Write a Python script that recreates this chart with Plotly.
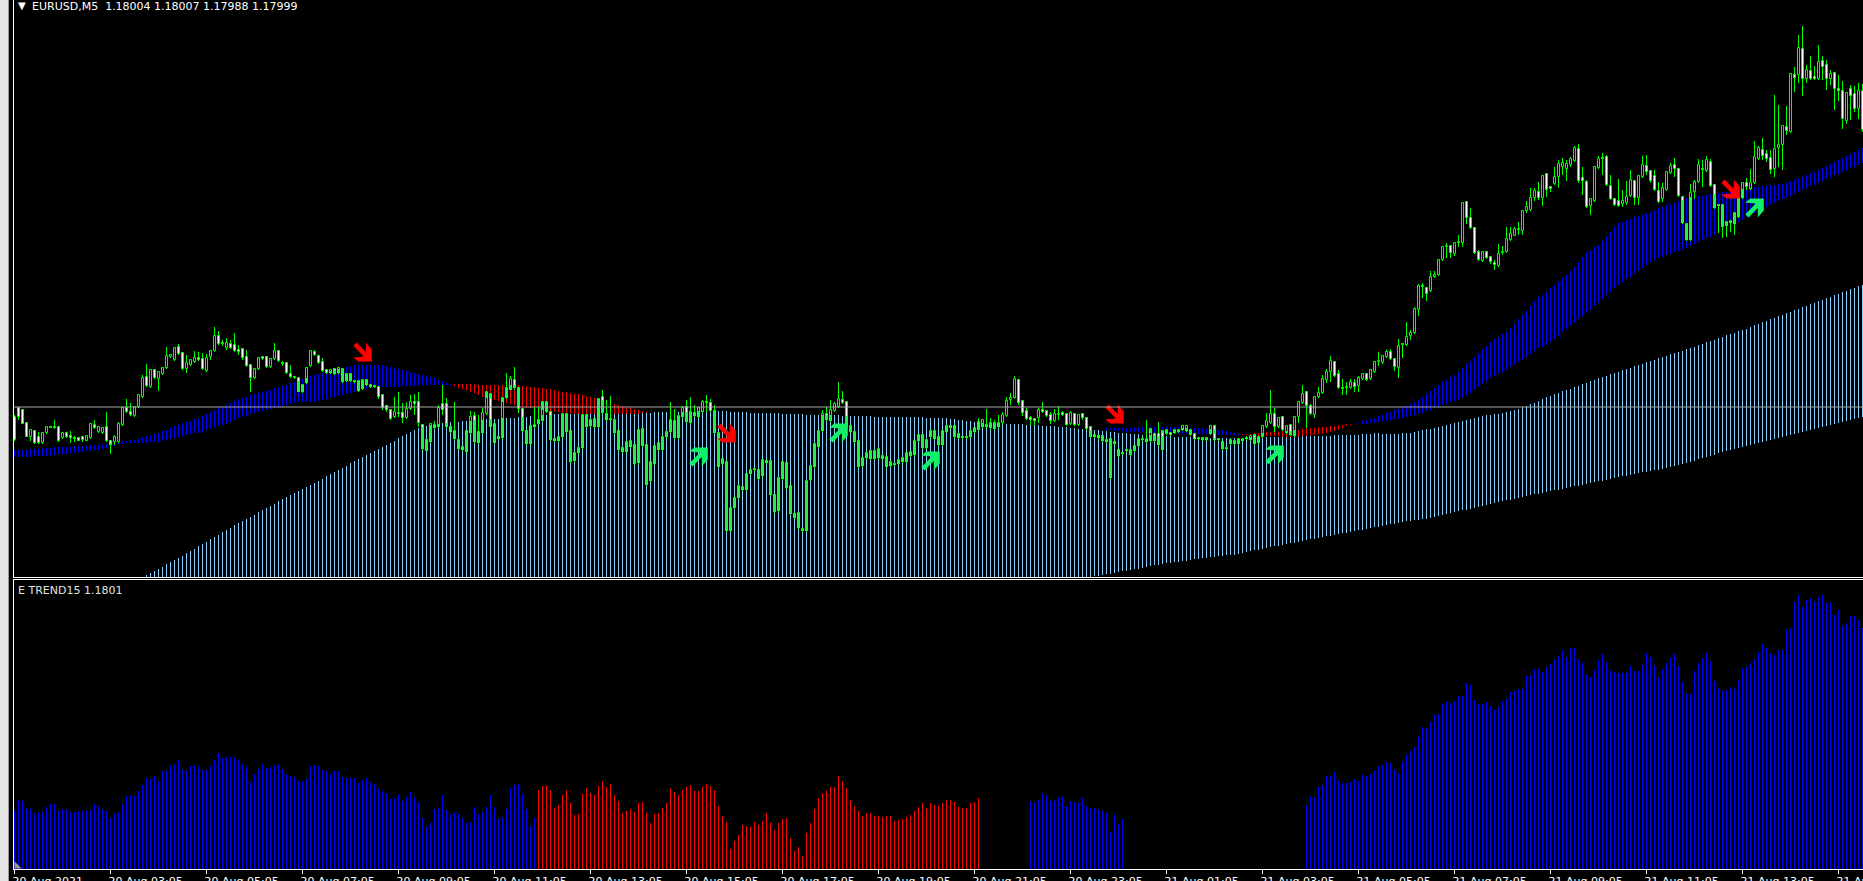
import plotly.graph_objects as go

TITLE = "EURUSD,M5\u00a0\u00a01.18004 1.18007 1.17988 1.17999"
SUBTITLE = "E TREND15 1.1801"
TICK_LABELS = ["20 Aug 2021", "20 Aug 03:05", "20 Aug 05:05", "20 Aug 07:05", "20 Aug 09:05", "20 Aug 11:05",
               "20 Aug 13:05", "20 Aug 15:05", "20 Aug 17:05", "20 Aug 19:05", "20 Aug 21:05", "20 Aug 23:05",
               "21 Aug 01:05", "21 Aug 03:05", "21 Aug 05:05", "21 Aug 07:05", "21 Aug 09:05", "21 Aug 11:05",
               "21 Aug 13:05", "21 Aug 15:05"]
BARS_PER_TICK = 24
LEVEL_PRICE = 1.1801
PRICE_TOP = 1.18417   # values below are points (1e-5) under this price
POINT = 1e-5

OPEN_PTS = [
417,408,410,423,437,431,437,443,433,427, 427,427,438,433,436,438,438,437,441,438,
425,432,433,427,441,442,442,425,408,412, 416,407,397,377,387,370,379,374,368,357,
360,347,353,369,365,362,358,359,371,357, 351,336,343,348,344,345,350,349,357,365,
378,369,357,357,367,359,351,363,363,374, 377,378,392,383,366,352,356,362,370,373,
369,373,369,381,374,381,381,389,380,385, 386,387,395,406,410,417,413,413,418,409,
402,402,425,440,442,425,427,404,404,427, 431,440,447,452,433,416,432,433,414,394,
424,437,438,398,390,380,388,409,431,444, 427,424,421,402,412,439,441,437,414,431,
461,453,448,415,426,419,427,397,414,419, 420,431,448,452,441,445,463,429,445,481,
464,450,450,437,432,421,438,417,407,412, 413,417,412,402,403,411,433,459,462,531,
508,498,490,490,474,469,470,476,461,461, 495,511,479,463,486,514,513,529,531,480,
467,447,431,414,421,411,407,400,402,426, 432,441,466,458,451,459,458,456,457,462,
464,464,462,462,456,455,441,435,448,437, 431,437,445,432,426,426,434,437,437,437,
432,430,427,425,428,423,427,423,416,400, 398,380,401,411,418,419,418,410,411,415,
421,414,413,414,424,414,425,414,418,427, 435,436,436,440,439,442,450,453,451,450,
451,446,440,439,441,434,434,431,434,433, 433,432,430,431,435,434,438,438,438,434,
426,439,442,448,444,441,444,441,438,440, 435,437,437,427,423,414,427,417,433,425,
436,417,403,392,406,415,397,393,380,372, 362,374,388,388,388,383,386,379,374,379,
372,362,363,357,352,359,368,345,345,336, 333,310,286,288,291,277,275,260,247,246,
254,243,243,202,218,228,252,261,252,257, 263,266,253,252,240,236,230,231,211,210,
198,192,198,174,187,184,177,167,169,165, 161,149,178,182,206,201,168,158,157,186,
199,201,204,203,196,181,198,177,166,171, 176,191,199,190,173,165,169,197,224,240,
192,182,169,171,162,185,205,205,226,223, 224,217,198,183,189,183,159,150,154,158,
169,148,145,127,132,75,75,49,79,71, 77,79,61,65,79,73,89,91,121,89,
94,109,91]

CLOSE_PTS = [
440,417,424,437,430,443,443,433,427,428, 428,441,433,437,438,439,441,440,436,424,
428,427,428,441,445,437,424,408,412,415, 407,395,378,386,370,378,372,368,356,355,
348,354,369,363,360,358,360,369,358,351, 336,344,344,343,348,351,352,358,366,378,
369,358,359,367,359,351,361,364,373,377, 378,392,385,368,351,355,363,371,373,370,
374,368,382,374,381,382,391,380,385,387, 387,397,408,410,419,412,414,418,409,402,
404,423,449,451,424,428,408,410,427,432, 439,449,450,431,417,442,443,413,392,427,
443,439,398,388,379,388,409,431,444,426, 425,420,402,412,440,441,437,414,432,462,
453,448,415,427,420,427,399,413,420,420, 433,450,452,442,447,464,430,446,485,462,
446,443,437,432,420,438,416,408,422,423, 416,408,402,403,411,433,467,464,531,508,
498,486,487,474,470,470,479,460,463,495, 512,478,462,488,514,518,528,531,481,466,
444,431,414,420,410,404,399,403,428,432, 442,467,458,453,459,451,449,459,467,466,
465,460,458,453,452,441,435,448,440,431, 439,445,431,426,428,437,438,438,438,431,
428,422,420,427,423,429,423,415,401,398, 379,403,413,419,420,421,410,412,416,421,
414,415,415,425,413,425,415,418,429,437, 437,438,441,442,478,444,456,454,450,455,
446,439,439,442,429,441,445,450,430,435, 430,430,426,426,430,439,439,440,440,426,
440,440,449,449,440,444,439,439,439,436, 444,443,426,421,414,427,418,430,426,435,
417,402,394,406,414,397,393,379,372,361, 376,388,389,387,382,387,378,374,380,370,
362,361,356,352,359,367,346,344,337,333, 309,286,287,294,277,275,260,247,246,253,
243,242,203,218,228,253,260,252,258,262, 265,254,252,239,234,229,229,211,207,198,
191,198,176,190,189,177,164,163,164,159, 148,181,181,207,199,167,159,159,185,199,
205,206,201,197,180,198,176,165,172,181, 190,202,188,172,166,169,196,223,240,193,
182,165,170,160,186,208,206,227,222,221, 213,197,183,187,183,157,148,156,159,170,
149,145,126,131,74,78,48,79,70,79, 79,62,67,79,74,89,91,119,93,96,
109,91,130]

HIGH_PTS = [
415,407,409,422,429,430,432,432,426,427, 420,426,433,432,431,436,437,436,435,423,
420,426,427,412,440,435,422,408,399,403, 406,394,375,364,369,369,371,367,347,355,
347,344,352,355,359,351,352,353,354,350, 327,331,340,338,340,333,345,348,350,364,
368,357,356,356,358,343,350,361,362,365, 376,377,384,367,350,350,355,358,369,369,
368,367,368,373,373,380,380,379,379,384, 385,386,395,405,409,397,392,403,402,395,
394,392,424,439,423,421,405,385,398,426, 402,439,446,430,411,412,415,408,391,394,
423,436,397,373,376,367,388,408,430,425, 407,407,401,401,411,438,436,413,413,430,
452,447,414,414,419,418,398,390,400,396, 419,430,447,441,440,444,429,428,444,461,
445,442,436,431,402,409,415,406,400,397, 405,407,400,395,399,405,432,458,461,507,
497,485,486,473,469,468,469,459,460,460, 494,477,461,462,485,513,512,528,480,465,
443,430,410,407,400,402,382,391,401,425, 431,440,457,452,450,450,448,455,456,461,
463,459,457,452,451,440,434,434,439,430, 430,436,430,425,425,425,433,436,436,430,
427,418,419,409,418,420,415,412,397,393, 376,379,400,408,416,418,408,402,410,412,
409,406,411,413,411,413,414,413,417,426, 434,435,435,439,438,441,449,452,449,449,
445,438,438,420,428,433,422,430,429,432, 429,429,425,425,429,433,437,437,437,425,
425,438,441,447,439,440,438,438,436,435, 434,436,425,413,390,408,417,416,425,424,
416,401,385,391,404,396,387,375,369,356, 361,370,379,382,379,379,376,373,373,369,
361,352,355,350,349,358,339,344,322,330, 307,284,283,287,271,271,259,246,243,245,
242,235,202,201,208,227,250,251,251,256, 260,244,246,227,227,227,222,210,201,188,
188,182,175,173,186,167,160,158,160,157, 146,144,167,180,198,166,156,153,155,175,
198,179,190,181,170,180,175,156,155,170, 170,182,183,171,163,158,168,196,223,184,
180,159,160,156,159,184,204,204,221,220, 212,196,182,178,169,141,146,138,150,150,
95,105,125,106,73,67,35,26,65,56, 66,45,56,60,70,72,75,81,92,85,
86,83,84]

LOW_PTS = [
441,420,424,437,441,444,444,444,434,428, 429,442,439,438,443,442,441,442,441,439,
429,433,434,442,454,445,443,426,413,416, 417,408,398,387,388,379,391,375,369,358,
361,355,370,373,366,363,361,370,372,360, 352,345,346,350,349,352,355,360,367,392,
379,370,360,368,368,360,362,366,374,378, 379,392,393,384,367,356,364,372,374,374,
375,374,383,382,382,383,392,390,386,388, 388,399,410,412,420,418,417,423,419,410,
415,427,450,452,443,429,428,415,428,433, 440,450,451,453,434,443,444,434,415,428,
444,440,439,399,390,390,413,432,445,445, 428,425,422,413,441,442,442,438,433,463,
462,454,449,428,427,428,428,414,421,421, 434,451,453,453,448,465,464,447,486,482,
465,451,451,438,433,439,439,418,423,424, 417,418,413,412,412,434,468,465,532,532,
509,499,491,491,475,471,480,477,464,496, 513,512,480,489,515,519,529,532,532,481,
468,448,432,421,422,412,408,404,429,433, 443,468,467,459,460,460,459,460,468,467,
466,465,463,463,457,456,442,449,449,438, 440,446,446,433,429,438,439,439,439,438,
433,431,428,428,429,430,428,424,417,405, 399,405,416,420,425,425,423,413,417,424,
422,420,416,426,425,426,426,420,430,438, 438,439,442,443,479,445,457,455,452,456,
452,447,441,443,442,442,446,451,435,436, 434,433,431,432,436,440,440,441,441,435,
441,441,450,450,445,445,445,442,440,441, 445,444,438,428,424,432,428,431,434,436,
437,423,404,428,415,418,398,394,383,382, 377,389,395,395,389,392,392,380,381,380,
373,366,364,358,360,371,378,358,346,340, 334,316,298,301,292,278,276,261,258,258,
256,247,247,224,229,254,261,262,259,264, 270,267,255,253,241,236,235,235,213,211,
201,200,206,197,192,185,188,175,181,167, 162,183,195,208,215,202,169,175,186,200,
206,207,207,205,197,205,205,178,175,183, 191,203,202,191,174,177,197,224,241,241,
199,183,187,172,187,209,233,238,237,232, 235,218,199,190,190,184,160,160,162,174,
177,167,170,135,133,92,83,96,83,80, 80,80,80,90,85,110,101,129,124,120,
112,119,132]

# Moving-average ribbon, first stretch starts at bar 0, second at bar 273
RIBBON_A_START = 0
FAST_A = [
450,450,450,450,449,449,449,448,448,448, 447,447,447,447,447,446,446,446,446,445,
445,445,444,444,443,443,442,441,441,440, 440,439,437,436,435,434,433,431,430,428,
426,425,423,422,421,419,418,416,414,412, 410,408,407,405,403,401,399,398,397,395,
394,393,392,391,390,388,387,386,385,383, 382,381,379,378,376,375,374,373,372,371,
370,369,368,367,366,365,365,365,365,365, 365,365,365,366,367,368,369,370,371,372,
373,374,375,376,377,378,380,381,383,384,
386,388,389,390,392,393,395,397,398,399, 400,401,402,403,404,405,406,407,408,408,
409,410,410,411,411,412,412,413,413,413, 414,414,414,414,414,414,414,414,414,414,
414,414,414,414,414,414,414,413,413]
SLOW_A = [
457,457,457,457,457,456,456,456,456,456, 455,454,454,454,453,453,452,452,451,451,
450,450,449,448,447,446,444,444,443,443, 443,443,443,443,442,442,442,441,440,439,
438,437,436,435,434,433,433,432,430,429, 427,426,425,424,422,420,418,417,416,414,
413,412,411,410,409,408,407,406,405,404, 403,402,402,402,402,402,401,400,399,398,
397,396,395,394,393,392,391,390,389,388, 387,387,387,387,387,387,387,386,386,386,
386,386,385,385,385,385,385,385,385,385,
384,384,384,384,384,384,385,385,385,385, 385,385,385,385,385,385,385,386,386,387,
387,388,388,389,389,390,391,392,392,393, 394,394,395,396,397,398,399,400,401,402,
404,405,406,407,408,409,410,411,412]
RIBBON_B_START = 273
FAST_B = [
428,428,428,428,428,428,428,427,427,427, 427,427,427,427,427,427,427,427,427,428,
428,428,428,428,428,429,429,429,430,430, 431,432,433,434,
435,435,435,436,436,436,436,436,436,436, 437,437,437,437,437,436,436,435,435,434,
434,433,432,431,430,428,426,425,424,
423,421,420,419,
418,416,415,413,412,410,409,407,406,404, 402,400,397,394,391,388,385,382,380,377,
375,372,368,364,361,357,353,349,346,342, 339,337,334,332,328,324,319,315,311,306,
301,297,295,292,288,285,281,278,275,271, 267,262,257,252,250,247,245,241,236,232,
227,223,222,220,219,217,216,215,213,212, 210,208,207,205,204,203,201,200,198,197,
197,196,196,195,194,194,193,192,192,191, 190,190,189,188,188,187,187,186,186,185,
185,184,184,183,181,180,178,177,175,173, 172,170,168,166,164,162,160,158,156,154,
152,150,148]
SLOW_B = [
430,430,431,431,431,432,432,432,432,432, 432,433,433,433,433,433,433,433,434,434,
434,434,434,434,434,434,434,434,435,435, 435,435,435,435,
434,434,434,433,433,433,432,432,432,432, 431,431,431,430,430,429,428,428,428,427,
427,427,426,426,425,425,424,424,424,
424,424,424,423,
423,422,421,421,420,419,419,418,417,416, 415,414,413,411,410,408,407,405,404,402,
401,400,398,395,393,390,387,384,381,378, 376,374,372,370,367,365,362,360,357,354,
351,348,347,345,342,339,336,332,329,326, 323,319,316,313,310,306,303,299,295,292,
288,285,282,279,277,274,271,268,265,262, 260,258,257,255,254,252,251,250,248,246,
244,242,240,238,237,235,233,231,229,227, 224,222,220,217,215,213,211,209,207,205,
203,201,199,198,196,194,192,190,188,186, 185,183,181,179,177,175,174,172,170,168,
167,165,163]

# Long channel: upper edge from bar 32; lower edge on the chart from bar 269
CHANNEL_TOP_START = 32
CHANNEL_TOP = [
577,575,573,571,569,567,564,562,560,558, 556,553,551,549,546,544,542,539,537,535,
532,530,528,525,523,521,519,517,515,512, 510,508,506,504,501,499,497,495,493,491,
489,487,485,483,481,479,476,474,472,470, 468,466,463,461,459,457,455,453,451,449,
447,445,443,441,438,436,434,432,430,428, 427,426,425,424,424,423,423,422,422,422,
421,421,421,420,420,420,419,419,419,419, 418,418,418,418,417,417,417,416,416,416,
415,415,415,414,414,414,414,414,414,414, 414,413,413,413,413,413,413,413,413,413,
413,413,413,413,413,413,413,413,412,412, 412,412,412,412,412,412,412,412,411,411,
411,411,411,411,411,411,411,412,412,412, 412,412,413,413,413,413,413,413,413,413,
414,414,414,414,414,414,415,415,415,415, 415,415,415,415,415,416,416,416,416,416,
416,416,416,417,417,417,417,417,417,417, 417,417,417,417,417,417,418,418,418,418,
418,418,419,419,420,420,421,421,422,422, 423,423,423,423,423,424,424,424,424,424,
424,425,425,425,425,426,426,426,426,427, 427,427,428,428,429,429,429,430,430,430,
431,431,432,432,433,433,433,434,434,434, 435,435,435,435,436,436,436,436,437,437,
437,437,437,438,438,438,438,438,438,438, 438,438,438,438,438,438,438,437,437,437,
437,437,437,437,437,437,437,436,436,436, 436,436,436,436,436,436,436,436,435,435,
435,435,435,435,435,434,434,434,433,433, 434,434,434,434,434,433,433,433,432,431,
430,429,429,428,427,426,425,424,423,422, 421,420,419,418,417,416,415,415,414,414,
413,412,411,410,409,407,406,404,403,401, 399,397,396,394,393,391,390,389,387,386,
384,383,381,380,378,377,376,374,373,372, 370,369,368,366,365,364,362,361,360,358,
357,356,354,353,352,351,349,348,347,345, 344,342,341,340,338,337,335,334,333,331,
330,329,327,325,324,322,321,319,318,316, 315,313,312,310,309,307,306,304,303,301,
300,298,297,295,294,292,291,289,288,286, 285]
CHANNEL_LOW_START = 269
CHANNEL_LOW = [
577,576,576,575,574,574,573,572,571,571, 570,569,569,568,567,566,565,565,564,563,
563,562,562,561,561,560,559,559,558,558, 557,557,556,556,555,555,555,554,553,552,
551,550,550,549,548,547,546,546,545,544, 543,543,542,541,540,539,539,538,537,536,
536,535,534,533,533,532,531,530,530,529, 528,527,527,526,525,524,524,523,522,521,
521,520,520,519,519,518,517,516,515,514, 513,512,511,510,510,509,508,507,506,505,
504,503,502,501,500,500,499,498,497,496, 495,494,494,493,492,491,490,490,489,488,
487,486,486,485,484,483,482,481,481,480, 479,478,477,476,476,475,474,473,472,472,
471,470,470,469,468,467,466,465,464,463, 462,461,459,458,457,456,455,453,452,451,
450,449,448,447,446,445,444,443,442,441, 440,439,438,437,436,435,434,433,432,431,
430,429,428,427,426,425,424,423,422,421, 420,419,418,417]

# Trend strength histogram in the lower pane, 0 where nothing is drawn
TREND = [
58,69,68,61,60,56,57,57,62,65, 65,58,60,60,57,57,58,58,58,59,
65,63,60,58,51,55,57,65,73,74, 73,78,84,91,90,93,88,98,98,103,
105,109,100,98,103,104,102,99,99,103, 109,116,111,112,112,112,109,105,102,87,
95,100,105,101,102,103,105,100,95,93, 92,88,88,90,103,104,103,99,98,95,
98,98,92,91,91,91,86,89,91,87, 85,81,78,76,70,71,74,68,72,77,
72,67,51,42,46,60,61,74,59,55, 57,55,51,46,47,62,55,57,62,74,
62,50,52,60,81,84,85,75,60,43, 51,79,83,84,79,61,64,74,79,66,
54,55,75,81,76,74,83,88,82,85, 74,68,56,58,60,57,66,67,56,46,
55,56,61,66,81,77,74,79,82,84, 78,78,82,85,83,79,63,53,47,20,
28,34,44,43,42,47,44,48,56,46, 39,46,50,51,31,18,22,13,36,46,
60,71,76,78,82,82,93,88,81,69, 63,58,53,56,56,53,53,52,53,53,
48,49,50,52,54,58,62,66,61,66, 64,63,66,69,69,67,62,61,61,66,
67,71,0,0,0,0,0,0,0,0, 0,0,0,0,68,66,69,76,73,68,
69,71,73,63,68,67,66,71,63,61, 61,60,58,56,37,54,45,50,0,0,
0,0,0,0,0,0,0,0,0,0, 0,0,0,0,0,0,0,0,0,0,
0,0,0,0,0,0,0,0,0,0, 0,0,0,0,0,0,0,0,0,0,
0,0,0,64,73,72,82,84,93,93, 97,89,86,86,87,90,88,94,93,95,
98,103,104,107,106,100,96,107,114,118, 122,132,142,141,147,154,155,165,167,166,
168,173,173,186,184,169,165,165,167,163, 159,162,168,170,177,178,180,180,193,194,
200,200,197,202,205,209,213,219,212,221, 221,210,206,195,192,199,209,215,207,199,
197,196,196,197,203,198,198,204,216,212, 204,192,200,206,211,215,203,187,176,175,
198,206,211,216,208,188,181,178,179,182, 180,189,201,202,206,210,217,225,221,216,
214,219,219,239,241,267,274,262,269,271, 267,272,274,266,267,254,259,243,246,253,
253,249,241]
TREND_RED_FIRST = 131
TREND_RED_LAST = 241
TREND_MAX = 289

# Signal arrows: bar index and points under the top price at the arrow centre
SELL_BARS = [87, 178, 275, 429]
SELL_PTS = [352, 433, 414, 189]
BUY_BARS = [171, 206, 229, 315, 435]
BUY_PTS = [457, 433, 461, 455, 208]

WIDTH, HEIGHT = 1863, 881
LEFT = 14
MARGIN_B = 12
PANE_MAIN_BOTTOM = 577
PANE_SUB_TOP = 580
PLOT_W = WIDTH - LEFT
PLOT_H = HEIGHT - MARGIN_B
PX = 0.25  # one pixel in bar units

LIME = "#00ff00"
SOLID = "#22ee55"
BLUE = "#0000ff"
RED = "#ff0000"
SKY = "#87cefa"
LEVEL = "#a8a8a8"
BUY_GREEN = "#12f06a"
# outline of the arrow glyph, in screen pixels around its centre, pointing down and right
GLYPH_DX = [-9.2, -5.9, 3.3, 3.3, 9.3, 9.3, -4.2, -9.2, 1.3, -9.2]
GLYPH_DY = [-6.2, -9.5, 0, -9.5, -2.5, 9.5, 9.5, 5.5, 4.5, -6.2]


def price(p):
    return PRICE_TOP - p * POINT


n = min(len(OPEN_PTS), len(CLOSE_PTS), len(HIGH_PTS), len(LOW_PTS))
fig = go.Figure()


def span_bars(xs, tops, bottoms, color, width, yaxis="y", line=None):
    """Vertical bars between two price levels."""
    marker = dict(color=color, line=dict(width=0) if line is None else dict(width=1, color=line))
    fig.add_trace(go.Bar(
        x=xs, y=[price(t) - price(b) for t, b in zip(tops, bottoms)],
        base=[price(b) for b in bottoms], width=width, marker=marker,
        hoverinfo="skip", showlegend=False, yaxis=yaxis, xaxis="x"))


# channel
ch_x = list(range(CHANNEL_TOP_START, CHANNEL_TOP_START + len(CHANNEL_TOP)))
ch_low = {CHANNEL_LOW_START + k: v for k, v in enumerate(CHANNEL_LOW)}
pane_floor = PANE_MAIN_BOTTOM + 3
ch_bottom = [ch_low.get(i, pane_floor) for i in ch_x]
span_bars(ch_x, CHANNEL_TOP, ch_bottom, SKY, 0.8 * PX)

# ribbon: blue while the fast average is above the slow one, red otherwise
rib = {}
for start, fast, slow in ((RIBBON_A_START, FAST_A, SLOW_A), (RIBBON_B_START, FAST_B, SLOW_B)):
    for k, (f, s) in enumerate(zip(fast, slow)):
        rib[start + k] = (f, s)
for col, test in ((BLUE, lambda f, s: f <= s), (RED, lambda f, s: f > s)):
    xs = [i for i, (f, s) in rib.items() if test(f, s)]
    tops = [min(rib[i]) for i in xs]
    bots = [max(rib[i]) for i in xs]
    span_bars(xs, tops, bots, col, 0.8 * PX)

# wicks
span_bars(list(range(n)), HIGH_PTS[:n], LOW_PTS[:n], LIME, 0.8 * PX)

# candle bodies: falling ones white, rising ones hollow
body_top = [min(OPEN_PTS[i], CLOSE_PTS[i]) for i in range(n)]
body_bot = [max(OPEN_PTS[i], CLOSE_PTS[i]) for i in range(n)]
fills = ["#ffffff" if CLOSE_PTS[i] > OPEN_PTS[i] else "#000000" for i in range(n)]
span_bars(list(range(n)), body_top, body_bot, fills, 2 * PX, line=LIME)

# where a body sits on a ribbon or channel column it shows as solid green
ch_top_at = {CHANNEL_TOP_START + k: v for k, v in enumerate(CHANNEL_TOP)}
ox, ot, ob = [], [], []
for i in range(n):
    spans = []
    if i in ch_top_at:
        spans.append((ch_top_at[i], ch_low.get(i, pane_floor)))
    if i in rib:
        spans.append((min(rib[i]), max(rib[i])))
    for a, b in spans:
        t, u = max(a, body_top[i]), min(b, body_bot[i])
        if u > t:
            ox.append(i)
            ot.append(t)
            ob.append(u)
span_bars(ox, ot, ob, SOLID, 2.8 * PX)


def add_arrows(bars, pts, color, flip):
    xs, ys = [], []
    for b, p in zip(bars, pts):
        for dx, dy in zip(GLYPH_DX, GLYPH_DY):
            xs.append(b + dx * PX)
            ys.append(price(p + flip * dy))
        xs.append(None)
        ys.append(None)
    fig.add_trace(go.Scatter(x=xs, y=ys, mode="lines", fill="toself", fillcolor=color,
                             line=dict(width=0, color=color), hoverinfo="skip",
                             showlegend=False, xaxis="x", yaxis="y"))


add_arrows(SELL_BARS, SELL_PTS, "#ff0000", 1)
add_arrows(BUY_BARS, BUY_PTS, BUY_GREEN, -1)

# lower pane
trend_x = [i for i, v in enumerate(TREND) if v > 0]
trend_y = [TREND[i] for i in trend_x]
trend_c = [RED if TREND_RED_FIRST <= i <= TREND_RED_LAST else BLUE for i in trend_x]
fig.add_trace(go.Bar(x=trend_x, y=trend_y, width=0.8 * PX, marker=dict(color=trend_c, line=dict(width=0)),
                     hoverinfo="skip", showlegend=False, xaxis="x2", yaxis="y2"))
fig.add_trace(go.Scatter(x=[0.6], y=[3], mode="markers",
                         marker=dict(symbol="triangle-sw", size=8, color="#9a9a9a", line=dict(width=0)),
                         hoverinfo="skip", showlegend=False, xaxis="x2", yaxis="y2"))

x_range = [-0.5 * PX, (PLOT_W - 0.5) * PX]
tickvals = [k * BARS_PER_TICK for k in range(len(TICK_LABELS))]
font = dict(family="DejaVu Sans", size=11, color="#ffffff")


def pxx(x):
    return (x - LEFT) / PLOT_W


def pxy(y):
    return (PLOT_H - y) / PLOT_H


hidden_y = dict(showgrid=False, zeroline=False, showticklabels=False, ticks="", automargin=False,
                showline=True, linecolor="#ffffff", linewidth=1, fixedrange=True)
fig.update_layout(
    width=WIDTH, height=HEIGHT, autosize=False,
    paper_bgcolor="#000000", plot_bgcolor="#000000",
    margin=dict(l=LEFT, r=0, t=0, b=MARGIN_B, pad=0, autoexpand=False),
    barmode="overlay", bargap=0, showlegend=False, font=font,
    xaxis=dict(domain=[0, 1], anchor="y", range=x_range, showgrid=False, zeroline=False, automargin=False,
               showticklabels=False, ticks="", showline=True, linecolor="#ffffff", linewidth=1, fixedrange=True),
    xaxis2=dict(domain=[0, 1], anchor="y2", range=x_range, showgrid=False, zeroline=False, automargin=False,
                showline=True, linecolor="#ffffff", linewidth=1, mirror=True, fixedrange=True,
                tickmode="array", tickvals=tickvals, ticktext=TICK_LABELS, ticks="outside", ticklen=4,
                tickwidth=1, tickcolor="#ffffff", tickangle=0, ticklabelposition="outside right",
                ticklabeloverflow="allow", ticklabelshift=-3, ticklabelstandoff=2,
                tickfont=font),
    yaxis=dict(domain=[pxy(PANE_MAIN_BOTTOM), 1], anchor="x",
               range=[price(PANE_MAIN_BOTTOM), PRICE_TOP], **hidden_y),
    yaxis2=dict(domain=[0, pxy(PANE_SUB_TOP)], anchor="x2", range=[0, TREND_MAX], **hidden_y),
    shapes=[
        dict(type="line", xref="paper", x0=0, x1=1, yref="y", y0=LEVEL_PRICE, y1=LEVEL_PRICE,
             line=dict(color=LEVEL, width=1), layer="above"),
        dict(type="rect", xref="paper", x0=pxx(0), x1=pxx(8), yref="paper", y0=pxy(HEIGHT), y1=1,
             fillcolor="#e6e6e6", line=dict(width=0), layer="below"),
        dict(type="rect", xref="paper", x0=pxx(8), x1=pxx(9), yref="paper", y0=pxy(HEIGHT), y1=1,
             fillcolor="#9a9a9a", line=dict(width=0), layer="below"),
    ],
    annotations=[
        dict(xref="paper", yref="paper", x=pxx(16), y=pxy(5.5), xanchor="left", yanchor="middle",
             text="\u25bc", showarrow=False, font=dict(family="DejaVu Sans", size=10, color="#ffffff")),
        dict(xref="paper", yref="paper", x=pxx(30), y=pxy(6), xanchor="left", yanchor="middle",
             text=TITLE, showarrow=False, font=font),
        dict(xref="paper", yref="paper", x=pxx(16), y=pxy(590), xanchor="left", yanchor="middle",
             text=SUBTITLE, showarrow=False, font=dict(family="DejaVu Sans", size=11, color="#e0e0e0")),
    ],
)

fig.write_html("out.html", config=dict(displayModeBar=False),
               post_script="document.body.style.margin='0';document.body.style.background='#000';document.body.style.overflow='hidden';")
